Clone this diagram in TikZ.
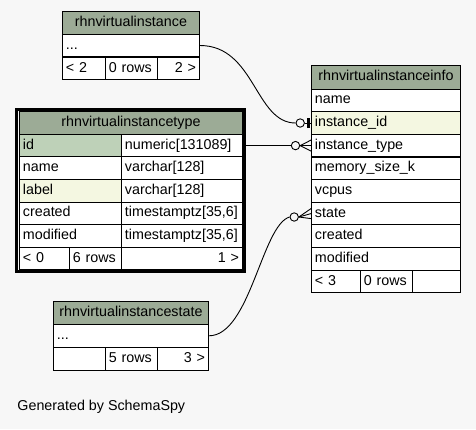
\documentclass[tikz,border=0pt]{standalone}
\usepackage{fontspec}
\setmainfont{Liberation Sans}
\definecolor{bg}{HTML}{F7F7F7}
\definecolor{hdr}{HTML}{9CAB96}
\definecolor{pkcell}{HTML}{BED1B8}
\definecolor{idxcell}{HTML}{F4F7E1}

\begin{document}
\begin{tikzpicture}[
    x=1pt, y=-1pt,
    line width=0.9pt,
    font=\fontsize{14.3}{17}\selectfont,
    cell/.style={draw, fill=white, anchor=west, minimum height=22.6pt,
      text height=10pt, text depth=3pt, inner xsep=3.5pt, inner ysep=0pt,
      align=left, text width=#1},
    head/.style={cell=#1, fill=hdr, align=center, minimum height=23pt},
    rcell/.style={cell=#1, align=right},
    dot/.style={circle, draw, fill=bg, minimum size=8.4pt, inner sep=0pt}
]
  \fill[bg] (0,0) rectangle (476,429);

  % rhnvirtualinstance
  \node[head=130pt] (vi) at (62,22.5) {rhnvirtualinstance};
  \node[cell=130pt] (vi_more) at (62,45.5) {...};
  \node[cell=36pt] (vi_par) at (62,68.5) {< 2};
  \node[cell=45pt] (vi_rows) at (105,68.5) {0 rows};
  \node[rcell=35pt] (vi_chi) at (157,68.5) {2 >};

  % rhnvirtualinstancetype
  \node[head=216pt, minimum height=22.6pt] (vt) at (19,123) {rhnvirtualinstancetype};
  \node[cell=95pt, fill=pkcell] (vt_id) at (19,145.6) {id};
  \node[cell=114pt] (vt_idtype) at (121,145.6) {numeric[131089]};
  \node[cell=95pt] (vt_name) at (19,168.2) {name};
  \node[cell=114pt] (vt_nametype) at (121,168.2) {varchar[128]};
  \node[cell=95pt, fill=idxcell] (vt_label) at (19,190.8) {label};
  \node[cell=114pt] (vt_labeltype) at (121,190.8) {varchar[128]};
  \node[cell=95pt] (vt_created) at (19,213.4) {created};
  \node[cell=114pt] (vt_createdtype) at (121,213.4) {timestamptz[35,6]};
  \node[cell=95pt] (vt_modified) at (19,236) {modified};
  \node[cell=114pt] (vt_modifiedtype) at (121,236) {timestamptz[35,6]};
  \node[cell=43pt] (vt_par) at (19,258.6) {< 0};
  \node[cell=45pt] (vt_rows) at (69,258.6) {6 rows};
  \node[rcell=114pt] (vt_chi) at (121,258.6) {1 >};
  \draw[line width=3pt] (16.5,109.5) rectangle (244.5,271.5);

  % rhnvirtualinstanceinfo
  \node[head=142pt, minimum height=24pt] (vii) at (311,77) {rhnvirtualinstanceinfo};
  \node[cell=142pt] (vii_name) at (311,100.3) {name};
  \node[cell=142pt, fill=idxcell] (vii_id) at (311,123) {instance\_id};
  \node[cell=142pt] (vii_type) at (311,145.6) {instance\_type};
  \node[cell=142pt] (vii_mem) at (311,168.3) {memory\_size\_k};
  \node[cell=142pt] (vii_vcpus) at (311,190.9) {vcpus};
  \node[cell=142pt] (vii_state) at (311,213.6) {state};
  \node[cell=142pt] (vii_created) at (311,236.2) {created};
  \node[cell=142pt] (vii_modified) at (311,258.9) {modified};
  \node[cell=42pt] (vii_par) at (311,281.5) {< 3};
  \node[cell=45pt] (vii_rows) at (360,281.5) {0 rows};
  \node[cell=41pt] (vii_chi) at (412,281.5) {};

  % rhnvirtualinstancestate
  \node[head=148pt, minimum height=23.3pt] (vs) at (53,312.65) {rhnvirtualinstancestate};
  \node[cell=148pt] (vs_more) at (53,335.8) {...};
  \node[cell=45pt] (vs_par) at (53,358.8) {};
  \node[cell=45pt] (vs_rows) at (105,358.8) {5 rows};
  \node[rcell=44pt] (vs_chi) at (157,358.8) {3 >};

  \node[anchor=base west, inner sep=0pt] (credit) at (17,410) {Generated by SchemaSpy};

  % edges
  \node[dot] (vi_end) at (300.2,123) {};
  \node[dot] (vt_end) at (295.5,145.6) {};
  \node[dot] (vs_end) at (294.2,217) {};

  \draw (vi_more.east) .. controls (255,45.5) and (255,123) .. (vi_end.west);
  \draw (vi_end.east) -- (vii_id.west);
  \draw[line width=3pt] ([xshift=-2.2pt,yshift=-5pt]vii_id.west) -- ([xshift=-2.2pt,yshift=5pt]vii_id.west);

  \draw (vt_idtype.east) -- (vt_end.west);
  \draw (vt_end.east) -- (vii_type.west);
  \draw (vt_end.east) -- ([yshift=5.5pt]vii_type.west);
  \draw (vt_end.east) -- ([yshift=-5.5pt]vii_type.west);

  \draw (vs_more.east) .. controls (250,335.8) and (262,225) .. (vs_end.west);
  \draw (vs_end.east) -- (vii_state.west);
  \draw (vs_end.east) -- ([yshift=5pt]vii_state.west);
  \draw (vs_end.east) -- ([yshift=-5pt]vii_state.west);
\end{tikzpicture}
\end{document}
